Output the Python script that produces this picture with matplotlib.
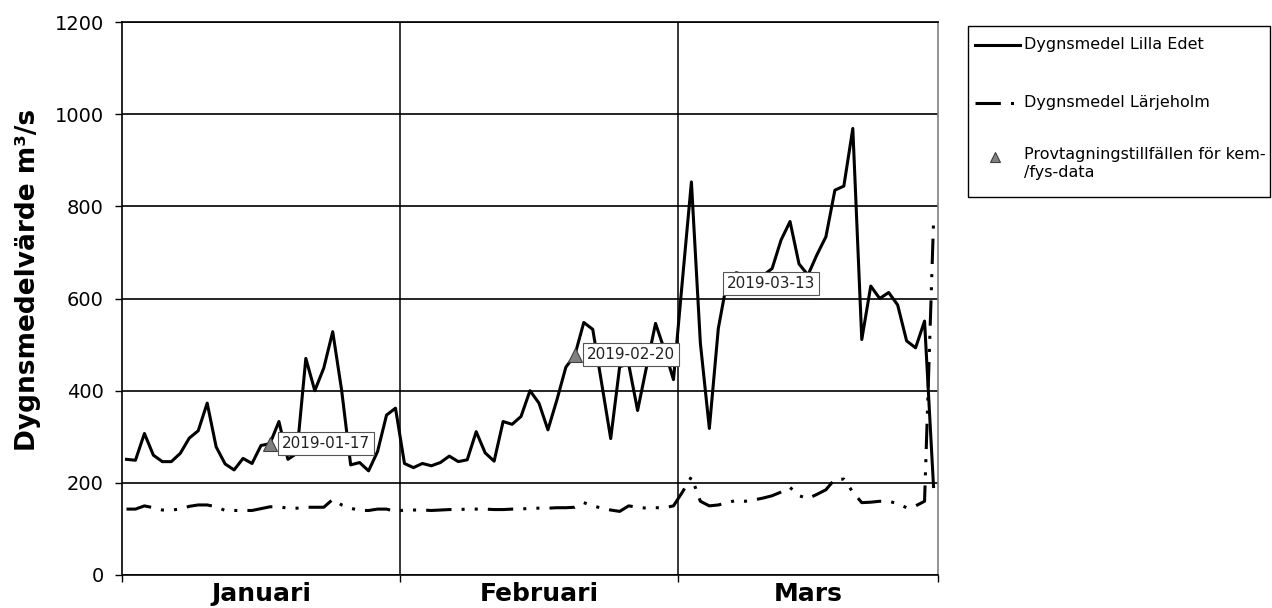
import matplotlib
matplotlib.use("Agg")
import matplotlib.pyplot as plt
from matplotlib.lines import Line2D
from matplotlib.patches import Rectangle

# Dygnsmedel Lilla Edet (m3/s), en punkt per dag
lilla_edet = [
    251, 249, 307, 260, 246, 246, 264, 297, 313, 373,
    278, 241, 228, 253, 242, 281, 285, 333, 251, 264,
    470, 400, 449, 528, 400, 239, 244, 226, 268, 347, 362,
    242, 233, 242, 237, 244, 258, 246, 250, 311, 265,
    247, 333, 327, 344, 400, 373, 315, 380, 451, 477,
    548, 533, 415, 296, 452, 458, 357, 452, 546, 488, 424,
    640, 853, 503, 318, 535, 640, 656, 650, 648, 650,
    665, 727, 767, 675, 651, 695, 734, 835, 844, 969,
    511, 627, 600, 613, 586, 508, 493, 551, 192,
]

# Dygnsmedel Lärjeholm (m3/s)
larjeholm = [
    143, 143, 150, 146, 141, 141, 143, 149, 152, 152,
    148, 140, 140, 140, 140, 144, 148, 148, 145, 145,
    147, 147, 147, 164, 152, 145, 140, 140, 143, 143, 138,
    141, 141, 141, 140, 141, 142, 142, 143, 143, 143,
    142, 142, 143, 143, 145, 145, 145, 146, 146, 147,
    157, 150, 145, 141, 138, 150, 147, 145, 146, 146, 150,
    180, 213, 160, 150, 152, 157, 162, 160, 163, 167,
    172, 180, 190, 172, 166, 175, 185, 208, 208, 180,
    157, 158, 160, 160, 155, 146, 150, 160, 765,
]

months = ["Januari", "Februari", "Mars"]
month_len = [31, 31, 29]

# provtagningstillfällen
sample_dates = ["2019-01-17", "2019-02-20", "2019-03-13"]
sample_idx = [16, 50, 74]
sample_val = [285, 478, 628]
# etikettens förskjutning i pixlar (x, y)
label_offset = [(12, 0), (12, 0), (-63, 2)]

W, H = 1272, 608
fig = plt.figure(figsize=(W / 100, H / 100), dpi=100)
ax = fig.add_axes([122 / W, 1 - 575 / H, (938 - 122) / W, (575 - 22) / H])

x = list(range(len(lilla_edet)))
lw = 2.2
dash = (0, (8.3, 3.3, 1, 3.3, 1, 3.3))
ax.plot(x, lilla_edet, color="black", lw=lw, zorder=4)
ax.plot(x, larjeholm, color="black", lw=lw, zorder=4, linestyle=dash)

ax.plot(sample_idx, sample_val, linestyle="none", marker="^", ms=10,
        mfc="#808080", mec="#404040", mew=0.8, zorder=5)
for d, i, v, off in zip(sample_dates, sample_idx, sample_val, label_offset):
    ax.annotate(d, (i, v), xytext=off, textcoords="offset pixels",
                ha="left", va="center", fontsize=11, color="#222222",
                zorder=6,
                bbox=dict(boxstyle="square,pad=0.25", fc="white",
                          ec="#555555", lw=0.8))

n = len(lilla_edet)
ax.set_xlim(-0.5, n - 0.5)
ax.set_ylim(0, 1200)

# månadsgränser och etiketter
bounds = [-0.5]
for m in month_len:
    bounds.append(bounds[-1] + m)
centers = [(bounds[k] + bounds[k + 1]) / 2 for k in range(len(months))]
for b in bounds[1:-1]:
    ax.axvline(b, color="black", lw=1.1, zorder=2)

ax.set_xticks(centers)
ax.set_xticklabels(months, fontsize=18, fontweight="bold")
ax.tick_params(axis="x", which="major", length=0, pad=5)
ax.set_xticks(bounds, minor=True)
ax.tick_params(axis="x", which="minor", length=5, width=1, direction="out")

ax.set_yticks(range(0, 1201, 200))
ax.tick_params(axis="y", length=5, width=1, direction="out", labelsize=14,
               pad=8)
ax.yaxis.grid(True, color="black", lw=1.2, zorder=1)
ax.set_axisbelow(True)

for s in ["left", "bottom"]:
    ax.spines[s].set_linewidth(1.2)
ax.spines["right"].set_color("#808080")
ax.spines["right"].set_linewidth(1.2)
ax.spines["top"].set_linewidth(1.2)

fig.text(28 / W, 1 - 280 / H, "Dygnsmedelvärde m³/s", rotation=90,
         fontsize=19, fontweight="bold", ha="center", va="center")


# förklaring
def fx(px):
    return px / W


def fy(py):
    return 1 - py / H


fig.add_artist(Rectangle((fx(968), fy(197)), fx(1270) - fx(968),
                         fy(26) - fy(197), transform=fig.transFigure,
                         fill=False, ec="black", lw=1.0))
fig.add_artist(Line2D([fx(975), fx(1020)], [fy(45), fy(45)],
                      transform=fig.transFigure, color="black", lw=lw))
fig.add_artist(Line2D([fx(975), fx(1020)], [fy(103), fy(103)],
                      transform=fig.transFigure, color="black", lw=lw,
                      linestyle=dash))
fig.add_artist(Line2D([fx(995)], [fy(157)], transform=fig.transFigure,
                      marker="^", ms=7, mfc="#808080", mec="#404040",
                      mew=0.8, linestyle="none"))
fig.text(fx(1024), fy(45), "Dygnsmedel Lilla Edet", fontsize=11.5,
         va="center", ha="left")
fig.text(fx(1024), fy(103), "Dygnsmedel Lärjeholm", fontsize=11.5,
         va="center", ha="left")
fig.text(fx(1024), fy(147), "Provtagningstillfällen för kem-\n/fys-data",
         fontsize=11.5, va="top", ha="left", linespacing=1.25)

fig.savefig("out.png", dpi=100)
